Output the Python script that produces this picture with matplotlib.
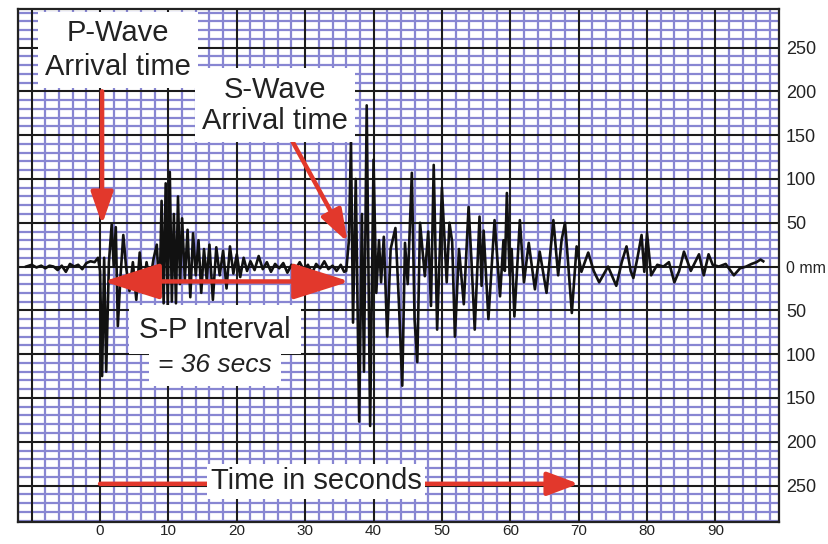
import matplotlib
matplotlib.use("Agg")
import matplotlib.pyplot as plt
import numpy as np

plt.rcParams['font.family'] = ['Liberation Sans', 'DejaVu Sans']

# seismogram trace (seconds, mm)
time_s = [-10.8, -10.0, -9.3, -8.6, -8.0, -7.4, -6.8, -6.2, -5.6, -5.0, -4.4, -3.8,
          -3.2, -2.6, -2.0, -1.4, -0.8, -0.3,
          0.0, 0.3, 0.6, 0.9, 1.3, 1.7, 2.0, 2.3, 2.6, 3.0, 3.4, 3.8, 4.3, 4.8,
          5.3, 5.8, 6.3, 6.8, 7.3, 7.8, 8.3, 8.7, 9.0, 9.3, 9.6, 9.9, 10.2, 10.5,
          10.8, 11.1, 11.4, 11.7, 12.0, 12.4, 12.8, 13.2, 13.6, 14.0, 14.4, 14.8,
          15.2, 15.6, 16.0, 16.5, 17.0, 17.5, 18.0, 18.5, 19.0, 19.5, 20.0, 20.5,
          21.0, 21.5, 22.0, 22.6, 23.2, 23.8, 24.4, 25.0, 25.6, 26.2, 26.8, 27.4,
          28.0, 28.6, 29.2, 29.8, 30.4, 31.0, 31.6, 32.2, 32.8, 33.4, 34.0, 34.6,
          35.2, 35.7,
          36.0, 36.4, 36.7, 37.0, 37.4, 37.9, 38.3, 38.6, 39.0, 39.5, 40.0, 40.4,
          40.8, 41.1, 41.5, 42.0, 42.5, 43.2, 43.7, 44.2, 44.6, 45.0, 45.6, 46.0,
          46.4, 46.8, 47.5, 48.0, 48.4, 48.8, 49.3, 50.0, 50.7, 51.1, 51.5, 51.9,
          52.5, 53.2, 53.9, 54.3, 54.8, 55.5, 55.8, 56.1, 56.8, 57.7, 58.5, 59.0,
          59.2, 59.5, 59.9, 60.2, 60.6, 61.4, 62.0, 62.7, 63.6, 64.3, 65.3, 66.3,
          67.0, 67.5, 68.0, 68.4, 69.0, 69.7, 70.4, 71.4, 72.2, 73.0, 74.3, 75.5,
          76.3, 77.0, 77.6, 78.0, 78.6, 79.2, 79.6, 80.0, 80.6, 81.5, 82.4, 83.2,
          84.0, 84.7, 85.4, 86.4, 87.6, 88.3, 89.0, 89.6, 90.5, 91.5, 92.7, 93.6,
          94.5, 95.3, 96.0, 96.6, 97.0]
amp_mm = [0, 2, -1, 1, -2, 1, 0, -4, 1, -6, 3, 0, 2, -3, 4, 6, 5, 10,
          -5, -125, 10, -120, 5, 48, 0, 45, -68, -10, 36, 0, -28, 5,
          -38, 16, -30, 5, -18, 8, 25, -35, 75, -42, 95, -45, 108, -40,
          60, -42, 80, -20, 55, -15, 42, -35, 38, -10, 30, -30,
          20, -15, 25, -38, 22, -10, 18, -25, 23, -8, 14, -12,
          10, -5, 6, -4, 12, -3, 5, -6, 3, -2, 4, -7,
          2, -3, 5, -4, 2, -8, 3, -2, 6, -3, 1, -5,
          2, -6,
          -5, 30, 144, -64, 100, -177, 60, -120, 184, -182, 122, -30,
          30, -18, 34, -80, 20, 44, -40, -136, 27, -20, 107, -60,
          -109, 50, -11, 40, -45, 116, -72, 90, -18, 50, 28, -80,
          20, -43, 68, 10, -72, 57, -22, 41, -60, 53, -34, 30,
          -5, 84, -10, 20, -57, 53, -18, 27, -26, 17, -30, 53,
          -10, 30, 50, 10, -53, 23, -6, 16, -5, -18, 0, -22,
          5, 23, -5, -13, 10, 36, -6, 38, -10, 2, 0, 5,
          -18, -5, 17, -5, 14, -10, 14, 2, 0, 3, -10, -2,
          0, 3, 5, 8, 6]

x_ticks = [0, 10, 20, 30, 40, 50, 60, 70, 80, 90]
y_ticks = [250, 200, 150, 100, 50, 0, -50, -100, -150, -200, -250]
y_labels = ['250', '200', '150', '100', '50', '0 mm', '50', '100', '150', '200', '250']

red = '#e2382c'
blue = '#8886d2'

fig = plt.figure(figsize=(8.29, 5.44), dpi=100)
ax = fig.add_axes([18 / 829, 22 / 544, 761 / 829, 513 / 544])
ax.set_xlim(-12.0, 99.3)
ax.set_ylim(-291.6, 294)

# chart paper grid
for v in np.arange(-12, 100, 2):
    if v % 10:
        ax.axvline(v, color=blue, lw=1.6, zorder=0.5)
for v in np.arange(-290, 300, 10):
    if v % 50:
        ax.axhline(v, color=blue, lw=1.6, zorder=0.5)
for v in np.arange(-10, 100, 10):
    ax.axvline(v, color='#1c1c1c', lw=1.5, zorder=0.6)
for v in y_ticks:
    ax.axhline(v, color='#1c1c1c', lw=1.5, zorder=0.6)

ax.plot(time_s, amp_mm, color='#111111', lw=1.9, zorder=2)

ax.set_xticks(x_ticks)
ax.set_xticklabels([str(v) for v in x_ticks], fontsize=11, color='#222222')
ax.yaxis.tick_right()
ax.set_yticks(y_ticks)
ax.set_yticklabels(y_labels, fontsize=13, color='#222222')
for lab in ax.get_yticklabels():
    if lab.get_text() == '0 mm':
        lab.set_fontsize(11.5)
ax.tick_params(length=0, pad=5)
ax.tick_params(axis='x', pad=1.5)
for s in ax.spines.values():
    s.set_linewidth(1.6)
    s.set_color('#222222')

# red arrows
arrow_kw = dict(color=red, lw=3.2, shrinkA=0, shrinkB=0)
ax.annotate('', xy=(0.3, 48), xytext=(0.3, 200),
            arrowprops=dict(arrowstyle='-|>,head_length=1.3,head_width=0.45', mutation_scale=15, **arrow_kw), zorder=4)
ax.annotate('', xy=(36.2, 28), xytext=(28.2, 142),
            arrowprops=dict(arrowstyle='-|>,head_length=1.3,head_width=0.45', mutation_scale=15, **arrow_kw), zorder=4)
ax.annotate('', xy=(36.5, -17), xytext=(0.5, -17),
            arrowprops=dict(arrowstyle='<|-|>,head_length=2.2,head_width=0.7', mutation_scale=16, **arrow_kw), zorder=4)
ax.annotate('', xy=(70.0, -248), xytext=(0.0, -248),
            arrowprops=dict(arrowstyle='-|>,head_length=1.6,head_width=0.6', mutation_scale=12, **arrow_kw), zorder=4)

# labels
box = dict(facecolor='white', edgecolor='none', boxstyle='square,pad=0.25')
ax.text(2.6, 247, 'P-Wave\nArrival time', fontsize=21, color='#222222', ha='center', va='center',
        linespacing=1.25, bbox=box, zorder=5)
ax.text(25.6, 184, 'S-Wave\nArrival time', fontsize=21, color='#222222', ha='center', va='center',
        linespacing=1.15, bbox=box, zorder=5)
ax.text(16.8, -72, 'S-P Interval', fontsize=21, color='#222222', ha='center', va='center',
        bbox=dict(facecolor='white', edgecolor='none', boxstyle='square,pad=0.35'), zorder=5)
ax.text(16.8, -112, '= 36 secs', fontsize=19, style='italic', color='#222222', ha='center', va='center',
        bbox=dict(facecolor='white', edgecolor='none', boxstyle='square,pad=0.35'), zorder=5)
ax.text(31.6, -245, 'Time in seconds', fontsize=21, color='#222222', ha='center', va='center',
        bbox=dict(facecolor='white', edgecolor='none', boxstyle='square,pad=0.12'), zorder=5)

fig.savefig('out.png', dpi=100, facecolor='white')
